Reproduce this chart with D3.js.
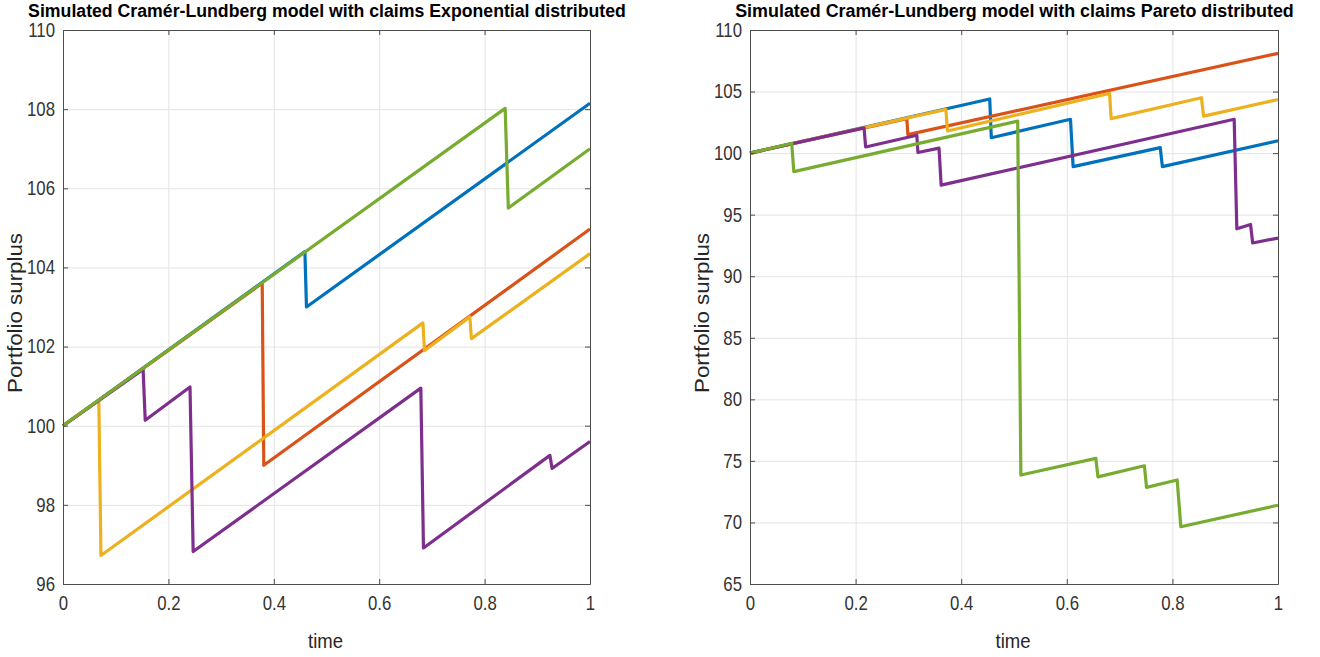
<!DOCTYPE html>
<html lang="en">
<head>
<meta charset="UTF-8">
<style>
  body { margin: 0; background: #fff; }
  text { font-family: "Liberation Sans", Arial, sans-serif; fill: #262626; }
  .grid line { stroke: #e3e3e3; stroke-width: 1; }
  .grid path { display: none; }
  .ax path, .ax line { stroke: #4d4d4d; stroke-width: 1; }
  .ax text { font-size: 20px; fill: #333; }
</style>
</head>
<body>
<svg width="1320" height="657"></svg>
<script src="https://d3js.org/d3.v7.min.js"></script>
<script>

// matlab default colour order
var colors = ["#0072BD", "#D95319", "#EDB120", "#7E2F8E", "#77AC30"];

// left panel: exponential claims, [time, surplus]
var expBlue   = [[0,100],[0.459,104.4],[0.462,103.0],[1,108.15]];
var expOrange = [[0,100],[0.378,103.6],[0.381,99.0],[1,104.97]];
var expYellow = [[0,100],[0.068,100.65],[0.072,96.72],[0.683,102.6],[0.686,101.9],[0.772,102.75],[0.775,102.2],[1,104.35]];
var expPurple = [[0,100],[0.152,101.42],[0.156,100.14],[0.241,100.98],[0.247,96.82],[0.679,100.95],[0.684,96.91],[0.924,99.25],[0.928,98.92],[1,99.6]];
var expGreen  = [[0,100],[0.839,108.02],[0.845,105.5],[1,107.0]];

// right panel: pareto claims
var parBlue   = [[0,100],[0.454,104.4],[0.457,101.25],[0.607,102.75],[0.612,98.9],[0.777,100.45],[0.781,98.9],[1,101.0]];
var parOrange = [[0,100],[0.297,102.8],[0.299,101.5],[1,108.1]];
var parYellow = [[0,100],[0.371,103.55],[0.374,101.8],[0.681,104.85],[0.684,102.8],[0.855,104.5],[0.859,103.0],[1,104.35]];
var parPurple = [[0,100],[0.216,102.05],[0.219,100.5],[0.316,101.45],[0.318,100.05],[0.358,100.4],[0.362,97.4],[0.917,102.75],[0.922,93.85],[0.948,94.2],[0.952,92.7],[1,93.1]];
var parGreen  = [[0,100],[0.079,100.8],[0.083,98.5],[0.507,102.6],[0.513,73.85],[0.655,75.2],[0.659,73.7],[0.747,74.6],[0.751,72.85],[0.809,73.45],[0.816,69.65],[1,71.4]];

var xTicks = [0, 0.2, 0.4, 0.6, 0.8, 1];
var expYTicks = [96, 98, 100, 102, 104, 106, 108, 110];
var parYTicks = [65, 70, 75, 80, 85, 90, 95, 100, 105, 110];

var sx = 0.84; // squeeze text, the original font is a narrow one
var svg = d3.select("svg");

function squeeze(sel) {
  sel.selectAll("text").each(function() {
    var t = d3.select(this);
    var x0 = +t.attr("x") || 0;
    t.attr("x", x0 / sx).attr("transform", "scale(" + sx + ",1)");
  });
}

function panel(opt) {
  var x = d3.scaleLinear().domain([0, 1]).range([opt.x0, opt.x1]);
  var y = d3.scaleLinear().domain(opt.yDomain).range([opt.y1, opt.y0]);
  var h = opt.y1 - opt.y0, w = opt.x1 - opt.x0;
  var g = svg.append("g");

  // grid
  g.append("g").attr("class", "grid")
    .attr("transform", "translate(0," + opt.y1 + ")")
    .call(d3.axisBottom(x).tickValues(xTicks).tickSize(-h).tickFormat(""));
  g.append("g").attr("class", "grid")
    .attr("transform", "translate(" + opt.x0 + ",0)")
    .call(d3.axisLeft(y).tickValues(opt.yTicks).tickSize(-w).tickFormat(""));

  // paths
  var line = d3.line().x(d => x(d[0])).y(d => y(d[1]));
  opt.series.forEach(function(s, i) {
    g.append("path").datum(s)
      .attr("d", line)
      .attr("fill", "none")
      .attr("stroke", colors[i])
      .attr("stroke-width", 3.2)
      .attr("stroke-linejoin", "round");
  });

  // box with inward ticks
  g.append("g").attr("class", "ax")
    .attr("transform", "translate(0," + opt.y1 + ")")
    .call(d3.axisBottom(x).tickValues(xTicks).tickSizeInner(-5).tickSizeOuter(0).tickPadding(12).tickFormat(d3.format("")))
    .call(squeeze);
  g.append("g").attr("class", "ax")
    .attr("transform", "translate(0," + opt.y0 + ")")
    .call(d3.axisTop(x).tickValues(xTicks).tickSizeInner(-5).tickSizeOuter(0).tickFormat(""));
  g.append("g").attr("class", "ax")
    .attr("transform", "translate(" + opt.x0 + ",0)")
    .call(d3.axisLeft(y).tickValues(opt.yTicks).tickSizeInner(-5).tickSizeOuter(0).tickPadding(8))
    .call(squeeze);
  g.append("g").attr("class", "ax")
    .attr("transform", "translate(" + opt.x1 + ",0)")
    .call(d3.axisRight(y).tickValues(opt.yTicks).tickSizeInner(-5).tickSizeOuter(0).tickFormat(""));

  // title, squeezed to the width it has in the original
  var title = g.append("text")
    .attr("y", 17)
    .attr("text-anchor", "middle")
    .style("font-size", "18px").style("font-weight", "bold").style("fill", "#000")
    .text(opt.title);
  var k = (opt.titleR - opt.titleL) / title.node().getComputedTextLength();
  title.attr("x", (opt.titleL + opt.titleR) / 2 / k).attr("transform", "scale(" + k + ",1)");

  g.append("text")
    .attr("x", (opt.x0 + opt.x1) / 2 - 1).attr("y", 648)
    .attr("text-anchor", "middle")
    .attr("textLength", 35)
    .attr("lengthAdjust", "spacingAndGlyphs")
    .style("font-size", "21px")
    .text("time");
  g.append("text")
    .attr("transform", "translate(" + (opt.x0 - 41) + "," + ((opt.y0 + opt.y1) / 2 + 6) + ") rotate(-90)")
    .attr("text-anchor", "middle")
    .attr("textLength", 160)
    .attr("lengthAdjust", "spacingAndGlyphs")
    .style("font-size", "21px")
    .text("Portfolio surplus");
}

panel({
  x0: 63, x1: 590, y0: 30, y1: 584,
  yDomain: [96, 110], yTicks: expYTicks,
  series: [expBlue, expOrange, expYellow, expPurple, expGreen],
  title: "Simulated Cramér-Lundberg model with claims Exponential distributed",
  titleL: 28, titleR: 626
});

panel({
  x0: 750, x1: 1278, y0: 30, y1: 584,
  yDomain: [65, 110], yTicks: parYTicks,
  series: [parBlue, parOrange, parYellow, parPurple, parGreen],
  title: "Simulated Cramér-Lundberg model with claims Pareto distributed",
  titleL: 735, titleR: 1294
});

</script>
</body>
</html>
